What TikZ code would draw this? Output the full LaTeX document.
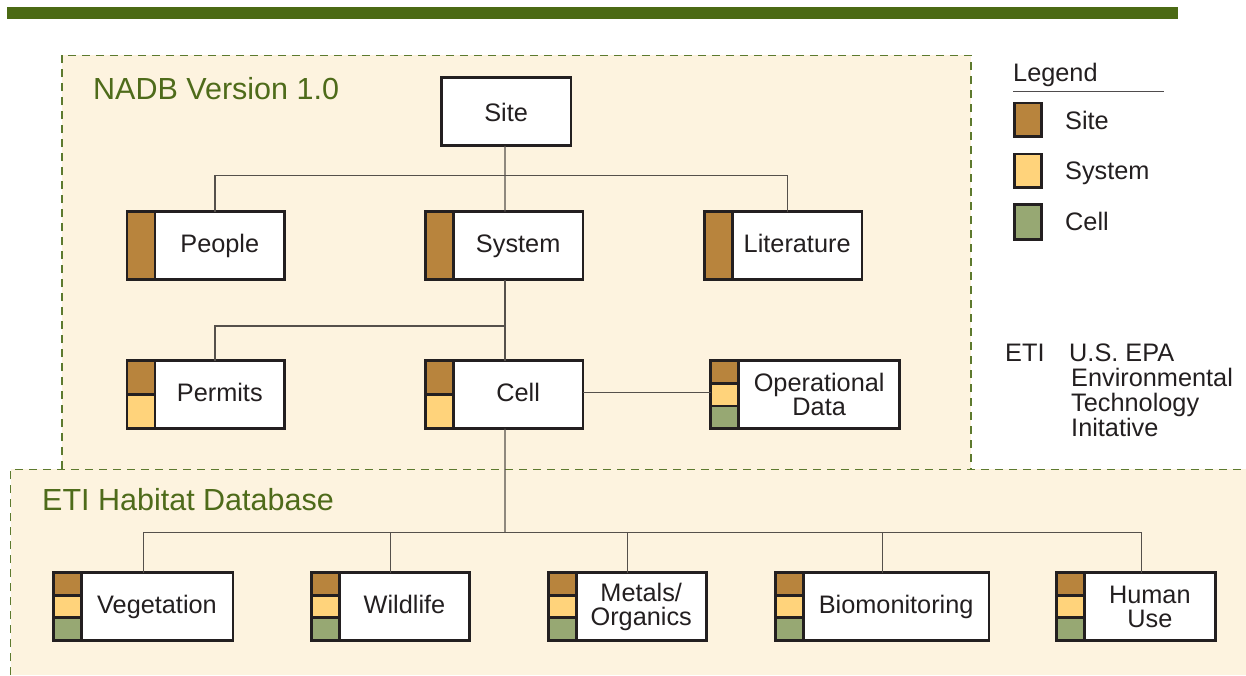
\documentclass[tikz,border=0pt]{standalone}
\usepackage{fontspec}
\setmainfont{Liberation Sans}
\usetikzlibrary{calc}
\definecolor{cream}{HTML}{FDF3DF}
\definecolor{bargreen}{HTML}{4B6A14}
\definecolor{titlegreen}{HTML}{4E6B1A}
\definecolor{dashgreen}{HTML}{5D7A2E}
\definecolor{ink}{HTML}{231F20}
\definecolor{cbrown}{HTML}{B8843D}
\definecolor{cyellow}{HTML}{FFD37B}
\definecolor{cgreen}{HTML}{97A873}
\definecolor{connc}{HTML}{55504B}
\newcommand\mystrip[3]{%
  \foreach \col [count=\i from 0] in {#3} {
    \draw[cellline, fill=\col] ([xshift=-28pt, yshift={-68pt*\i/#2}]#1.north west) rectangle ([yshift={-68pt*(\i+1)/#2}]#1.north west);
  }}
\begin{document}
\begin{tikzpicture}[x=1pt,y=-1pt,
  mainbox/.style={draw=ink, line width=2.8pt, fill=white, minimum height=68pt, inner sep=0pt, outer sep=0pt, font=\fontsize{25.3}{24}\selectfont, text=ink, align=center},
  oneline/.style={text height=19pt, text depth=4.4pt},
  cellline/.style={draw=ink, line width=2.8pt},
  conn/.style={draw=connc, line width=1.3pt},
  region/.style={draw=dashgreen, line width=1.2pt, dash pattern=on 8pt off 6pt},
  title/.style={font=\fontsize{30.5}{30}\selectfont, text=titlegreen, inner sep=0pt, anchor=base west},
  lbl/.style={font=\fontsize{25.3}{25}\selectfont, text=ink, inner sep=0pt, anchor=base west},
  swatch/.style={draw=ink, line width=2.8pt, minimum width=27.2pt, minimum height=33.5pt, inner sep=0pt}]
\useasboundingbox (0,0) rectangle (1246,675);
% top bar
\fill[bargreen] (7,6.5) rectangle (1178,19);
% regions
\fill[cream] (62,55.3) rectangle (971,469.3);
\draw[region] (62,469.3) -- (62,55.3) -- (971,55.3) -- (971,469.3);
\fill[cream] (10.7,469.3) rectangle (1246,675);
\draw[region] (10.7,675) -- (10.7,469.3) -- (1246,469.3);
\node[title] (nadbt) at (93,99.5) {NADB Version 1.0};
\node[title] (etit) at (42,510.7) {ETI Habitat Database};
% boxes
\node[mainbox, oneline, text height=19pt, text depth=0.2pt, minimum width=129.5pt, minimum height=68.4pt] (site) at (506.15,111.65) {Site};
\node[mainbox, oneline, minimum width=129.6pt] (people) at (219.8,245.5) {People};
\node[mainbox, oneline, minimum width=129.5pt] (system) at (518.15,245.5) {System};
\node[mainbox, oneline, minimum width=129.5pt] (literature) at (797.15,245.5) {Literature};
\node[mainbox, oneline, minimum width=129.6pt] (permits) at (219.8,394.65) {Permits};
\node[mainbox, oneline, minimum width=129.5pt] (cell) at (518.15,394.65) {Cell};
\node[mainbox, minimum width=160.9pt] (opdata) at (819.15,394.65) {Operational\\Data};
\node[mainbox, oneline, minimum width=151.8pt] (veg) at (157,606.5) {Vegetation};
\node[mainbox, oneline, minimum width=130.2pt] (wild) at (404.5,606.5) {Wildlife};
\node[mainbox, minimum width=130.2pt] (metals) at (641.2,606.5) {Metals/\\Organics};
\node[mainbox, oneline, minimum width=185.5pt] (bio) at (896.15,606.5) {Biomonitoring};
\node[mainbox, minimum width=130.9pt] (human) at (1149.85,606.5) {Human\\Use};
% strips
\mystrip{people}{1}{cbrown}
\mystrip{system}{1}{cbrown}
\mystrip{literature}{1}{cbrown}
\mystrip{permits}{2}{cbrown,cyellow}
\mystrip{cell}{2}{cbrown,cyellow}
\mystrip{opdata}{3}{cbrown,cyellow,cgreen}
\mystrip{veg}{3}{cbrown,cyellow,cgreen}
\mystrip{wild}{3}{cbrown,cyellow,cgreen}
\mystrip{metals}{3}{cbrown,cyellow,cgreen}
\mystrip{bio}{3}{cbrown,cyellow,cgreen}
\mystrip{human}{3}{cbrown,cyellow,cgreen}
% connectors
\coordinate (bus1) at (505,175.7);
\coordinate (bus2) at (505,326);
\coordinate (bus3) at (505,532.7);
\draw[conn] ([xshift=-1.2pt]site.south) -- ([xshift=-13.1pt]system.north);
\draw[conn] ([xshift=-4.8pt]people.north) |- (bus1) -| ([xshift=-9.5pt]literature.north);
\draw[conn] ([xshift=-13.1pt]system.south) -- ([xshift=-13.1pt]cell.north);
\draw[conn] ([xshift=-4.8pt]permits.north) |- (bus2);
\draw[conn] ([yshift=2.5pt]cell.east) -- ([xshift=-28pt, yshift=2.5pt]opdata.west);
\draw[conn] ([xshift=-13.1pt]cell.south) -- (bus3);
\draw[conn] ([xshift=-13.7pt]veg.north) |- (bus3) -| ([xshift=-8.1pt]human.north);
\draw[conn] ([xshift=-13.8pt]wild.north) -- ([xshift=-13.8pt]wild.north |- bus3);
\draw[conn] ([xshift=-13.9pt]metals.north) -- ([xshift=-13.9pt]metals.north |- bus3);
\draw[conn] ([xshift=-13.8pt]bio.north) -- ([xshift=-13.8pt]bio.north |- bus3);
% legend
\node[lbl] (legt) at (1013,81.7) {Legend};
\coordinate (legl) at (1013,91.7);
\coordinate (legr) at (1164,91.7);
\draw[draw=ink!80, line width=1.2pt] (legl) -- (legr);
\node[swatch, fill=cbrown] (lsite) at (1027.7,119.7) {};
\node[swatch, fill=cyellow] (lsystem) at (1027.7,170.7) {};
\node[swatch, fill=cgreen, minimum height=34.6pt] (lcell) at (1027.7,222) {};
\node[lbl] (lsitet) at (1065,129.3) {Site};
\node[lbl] (lsystemt) at (1065,179.3) {System};
\node[lbl] (lcellt) at (1065,230.7) {Cell};
% ETI note
\node[lbl] (eti) at (1005,361.7) {ETI};
\node[lbl] (eti1) at (1069,361.7) {U.S. EPA};
\node[lbl] (eti2) at (1071,386) {Environmental};
\node[lbl] (eti3) at (1071,411) {Technology};
\node[lbl] (eti4) at (1071,436) {Initative};
\end{tikzpicture}
\end{document}
